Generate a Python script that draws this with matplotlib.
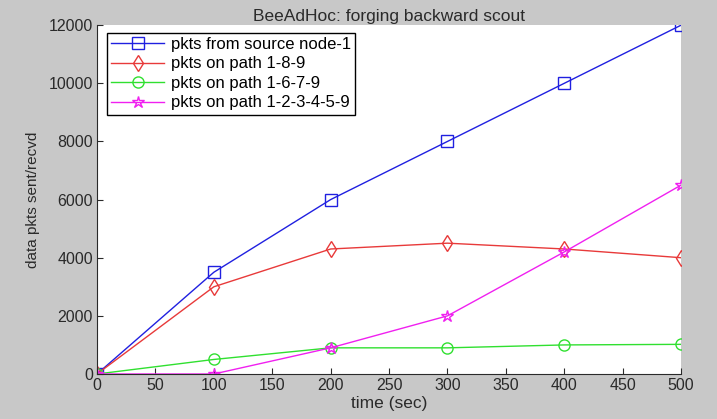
import matplotlib
matplotlib.use('Agg')
import matplotlib.pyplot as plt

plt.rcParams['font.family'] = ['Liberation Sans', 'DejaVu Sans']

time_sec = [0, 100, 200, 300, 400, 500]
from_source = [0, 3500, 6000, 8000, 10000, 12000]
path_189 = [0, 3000, 4300, 4500, 4300, 4000]
path_1679 = [0, 500, 900, 900, 1000, 1020]
path_123459 = [0, 0, 900, 2000, 4200, 6500]

x_ticks = list(range(0, 501, 50))
y_ticks = list(range(0, 12001, 2000))

fig = plt.figure(figsize=(7.17, 4.19), dpi=100, facecolor='#c8c8c8')
ax = fig.add_axes([0.1353, 0.1074, 0.8147, 0.8326])
ax.set_facecolor('white')

ax.plot(time_sec, from_source, color='#2020e0', lw=1, marker='s', ms=8,
        mfc='none', mec='#2020e0', label='pkts from source node-1')
ax.plot(time_sec, path_189, color='#e83a3a', lw=1, marker='d', ms=8,
        mfc='none', mec='#e83a3a', label='pkts on path 1-8-9')
ax.plot(time_sec, path_1679, color='#30e030', lw=1, marker='o', ms=8,
        mfc='none', mec='#30e030', label='pkts on path 1-6-7-9')
ax.plot(time_sec, path_123459, color='#f020f0', lw=1, marker='*', ms=9,
        mfc='none', mec='#f020f0', label='pkts on path 1-2-3-4-5-9')

ax.set_xlim(0, 500)
ax.set_ylim(0, 12000)
ax.set_xticks(x_ticks)
ax.set_yticks(y_ticks)
ax.tick_params(direction='in', length=4, labelsize=11.5, colors='#2a2a2a', pad=3)
for s in ['top', 'right']:
    ax.spines[s].set_visible(False)
for s in ['left', 'bottom']:
    ax.spines[s].set_color('#2a2a2a')

ax.set_xlabel('time (sec)', fontsize=12.5, labelpad=2, color='#2a2a2a')
ax.set_ylabel('data pkts sent/recvd', fontsize=11, labelpad=6, color='#2a2a2a')
ax.set_title('BeeAdHoc: forging backward scout', fontsize=12.5, pad=3, color='#2a2a2a')

leg = ax.legend(loc='upper left', bbox_to_anchor=(0.017, 0.978), fontsize=12,
                fancybox=False, framealpha=1, edgecolor='black',
                borderpad=0.25, labelspacing=0.27, handlelength=3.2,
                handletextpad=0.4, borderaxespad=0)
leg.get_frame().set_linewidth(1)

fig.savefig('out.png', dpi=100, facecolor=fig.get_facecolor())
